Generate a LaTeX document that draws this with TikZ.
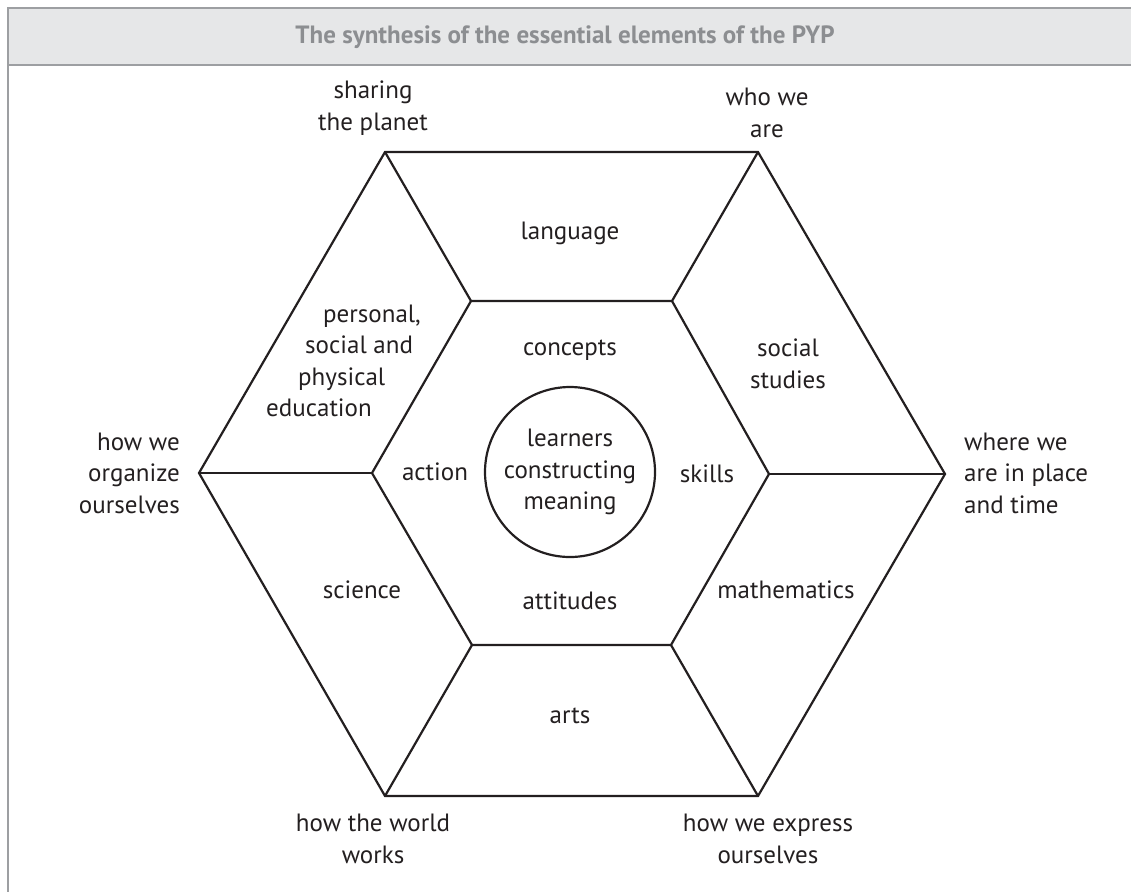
\documentclass[tikz,border=0pt]{standalone}
\usepackage{fontspec}
\setmainfont{PT Sans}
\usepackage{tikz}
\usetikzlibrary{positioning}
\definecolor{bandgray}{HTML}{E6E7E8}
\definecolor{rulegray}{HTML}{9D9FA2}
\definecolor{titlegray}{HTML}{8C8E91}
\definecolor{inkgray}{HTML}{231F20}
\tikzstyle{hexline} = [draw=inkgray, line width=2.2pt, line join=miter]
\tikzstyle{textnode} = [
    inner sep=0pt,             % Tight box
    text=inkgray,              % Text colour
    align=center,              % Centred lines
    font=\fontsize{25}{31.5}\selectfont
]
\tikzstyle{titlenode} = [inner sep=0pt, text=titlegray, font=\fontsize{25}{28}\selectfont\bfseries]

\begin{document}
\begin{tikzpicture}[x=1pt, y=-1pt]
		\useasboundingbox (0,0) rectangle (1131,892);

		% Title band
		\fill[bandgray] (8,8) rectangle (1131,65);
		\draw[rulegray, line width=1.5pt] (1131,8) -- (8,8) -- (8,892);
		\draw[rulegray, line width=1.5pt] (8,65) -- (1131,65);
		\node[titlenode] (title) at (565,37) {The synthesis of the essential elements of the PYP};

		% Outer hexagon
		\coordinate (otl) at (385,152);
		\coordinate (otr) at (758,152);
		\coordinate (oright) at (945,474);
		\coordinate (obr) at (758,796);
		\coordinate (obl) at (385,796);
		\coordinate (oleft) at (199,473);

		% Inner hexagon
		\coordinate (itl) at (471,301);
		\coordinate (itr) at (672,301);
		\coordinate (iright) at (769,474);
		\coordinate (ibr) at (671,645);
		\coordinate (ibl) at (472,645);
		\coordinate (ileft) at (372,473);

		\draw[hexline] (otl) -- (otr) -- (oright) -- (obr) -- (obl) -- (oleft) -- cycle;
		\draw[hexline] (itl) -- (itr) -- (iright) -- (ibr) -- (ibl) -- (ileft) -- cycle;

		% Spokes
		\draw[hexline] (otl) -- (itl);
		\draw[hexline] (otr) -- (itr);
		\draw[hexline] (oright) -- (iright);
		\draw[hexline] (obr) -- (ibr);
		\draw[hexline] (obl) -- (ibl);
		\draw[hexline] (oleft) -- (ileft);

		% Centre
		\node[textnode, hexline, circle, minimum size=170pt] (core) at (570,472) {learners\\constructing\\meaning};

		% Inner ring
		\node[textnode] (concepts) at (570,350) {concepts};
		\node[textnode] (skills) at (707,474) {skills};
		\node[textnode] (attitudes) at (570,601) {attitudes};
		\node[textnode] (action) at (435,472) {action};

		% Subject areas
		\node[textnode] (language) at (570,233) {language};
		\node[textnode] (social) at (788,364) {social\\studies};
		\node[textnode] (maths) at (786,590) {mathematics};
		\node[textnode] (arts) at (570,716) {arts};
		\node[textnode] (science) at (362,590) {science};
		\node[textnode, align=left, anchor=west] (pspe) at (266,361)
			{\hspace*{57pt}personal,\\\hspace*{39pt}social and\\\hspace*{32pt}physical\\education};

		% Transdisciplinary themes
		\node[textnode] (sharing) at (373,108) {sharing\\the planet};
		\node[textnode] (whoweare) at (767,113) {who we\\are};
		\node[textnode, align=left, anchor=west] (where) at (964,473) {where we\\are in place\\and time};
		\node[textnode] (express) at (768,839) {how we express\\ourselves};
		\node[textnode] (world) at (373,839) {how the world\\works};
		\node[textnode, align=right, anchor=east] (organize) at (180,473) {how we\\organize\\ourselves};
	\end{tikzpicture}
\end{document}
